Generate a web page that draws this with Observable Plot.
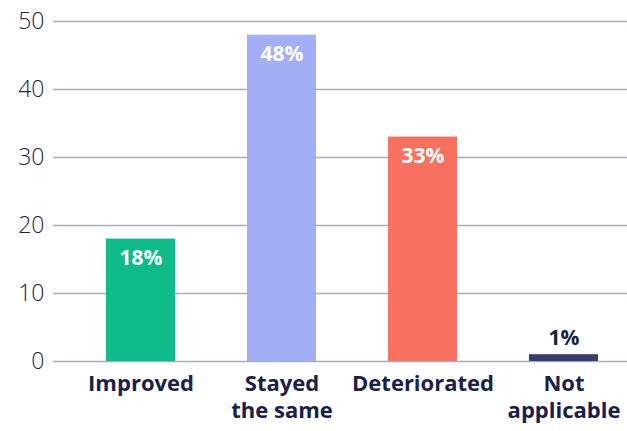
<!DOCTYPE html>
<html>
<head>
<meta charset="utf-8">
<script src="https://cdn.jsdelivr.net/npm/d3@7"></script>
<script src="https://cdn.jsdelivr.net/npm/@observablehq/plot@0.6"></script>
<style>
  html, body { margin: 0; padding: 0; background: #fff; }
  #chart svg { display: block; }
</style>
</head>
<body>
<div id="chart"></div>
<script>
const categories = ["Improved", "Stayed the same", "Deteriorated", "Not applicable"];
const tickLabels = ["Improved", "Stayed\nthe same", "Deteriorated", "Not\napplicable"];
const values = [18, 48, 33, 1];
const colors = ["#0fbb88", "#a3aff4", "#f87060", "#373d6c"];
const yTicks = [0, 10, 20, 30, 40, 50];

const data = categories.map((c, i) => ({category: c, value: values[i], color: colors[i]}));
const labelOf = new Map(categories.map((c, i) => [c, tickLabels[i]]));

const navy = "#1b2049";
const font = "'Open Sans', Lato, sans-serif";

const chart = Plot.plot({
  width: 627,
  height: 431,
  marginLeft: 53,
  marginRight: 0,
  marginTop: 21,
  marginBottom: 70,
  style: {fontFamily: font, background: "#fff"},
  x: {domain: categories, paddingInner: 0.512, paddingOuter: 0.287, align: 0.64},
  y: {domain: [0, 50]},
  marks: [
    Plot.gridY(yTicks, {stroke: "#a9acbd", strokeOpacity: 1, strokeWidth: 1.3}),
    Plot.axisY(yTicks, {tickSize: 0, tickPadding: 9, fontSize: 23, fontWeight: 300, fill: navy, label: null}),
    Plot.axisX({tickSize: 0, tickPadding: 11, fontSize: 22, fontWeight: 700, fill: navy, label: null,
      lineHeight: 1.2, lineAnchor: "top", tickFormat: d => labelOf.get(d)}),
    Plot.barY(data, {x: "category", y: "value", fill: "color"}),
    Plot.text(data.filter(d => d.value >= 5), {x: "category", y: "value", text: d => d.value + "%",
      dy: 19, fill: "white", fontSize: 21, fontWeight: 700}),
    Plot.text(data.filter(d => d.value < 5), {x: "category", y: "value", text: d => d.value + "%",
      dy: -16, fill: navy, fontSize: 21, fontWeight: 700})
  ]
});
document.getElementById("chart").append(chart);
</script>
</body>
</html>
